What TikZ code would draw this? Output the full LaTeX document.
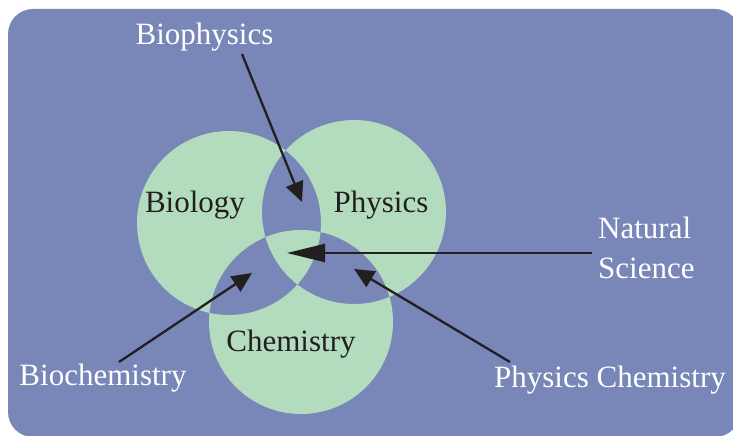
\documentclass[tikz,border=0pt]{standalone}
\usepackage{fontspec}
\setmainfont{Liberation Serif}
\usetikzlibrary{arrows.meta}
\definecolor{bg}{HTML}{7886B8}
\definecolor{venn}{HTML}{B3DCBE}
\definecolor{ink}{HTML}{231F20}
\begin{document}
\begin{tikzpicture}[x=1pt,y=-1pt,
  lbl/.style={font=\fontsize{31}{40}\selectfont, text=white, inner sep=0pt},
  inlbl/.style={lbl, text=ink},
  pointer/.style={draw=ink, line width=2.3pt, -{Triangle[length=20pt,width=18pt]}},
  longpointer/.style={draw=ink, line width=2.3pt, -{Triangle[length=38pt,width=18pt]}}]
\useasboundingbox (0,0) rectangle (733,436);
\fill[bg, rounded corners=25pt] (8,9) rectangle (740,437);
\fill[venn, even odd rule] (229,223) circle[radius=92] (354,212) circle[radius=92] (301,322) circle[radius=92];

\node[lbl, anchor=base] (biophys) at (204.5,45) {Biophysics};
\node[inlbl, anchor=base] (biol) at (195,212) {Biology};
\node[inlbl, anchor=base] (phys) at (381,212) {Physics};
\node[inlbl, anchor=base] (chem) at (291,351) {Chemistry};
\node[lbl, anchor=base west, align=left] (natsci) at (598,278) {Natural\\Science};
\node[lbl, anchor=base] (physchem) at (610,387) {Physics Chemistry};
\node[lbl, anchor=base] (biochem) at (103,385) {Biochemistry};

\coordinate (tBP) at (302,202); \coordinate (sBP) at (242,54);
\coordinate (tNS) at (287,253); \coordinate (sNS) at (592,253);
\coordinate (tBC) at (252,273); \coordinate (sBC) at (119,362);
\coordinate (tPC) at (354,269); \coordinate (sPC) at (510,362);

\draw[pointer] (sBP) -- (tBP);
\draw[longpointer] (sNS) -- (tNS);
\draw[pointer] (sBC) -- (tBC);
\draw[pointer] (sPC) -- (tPC);
\end{tikzpicture}
\end{document}
